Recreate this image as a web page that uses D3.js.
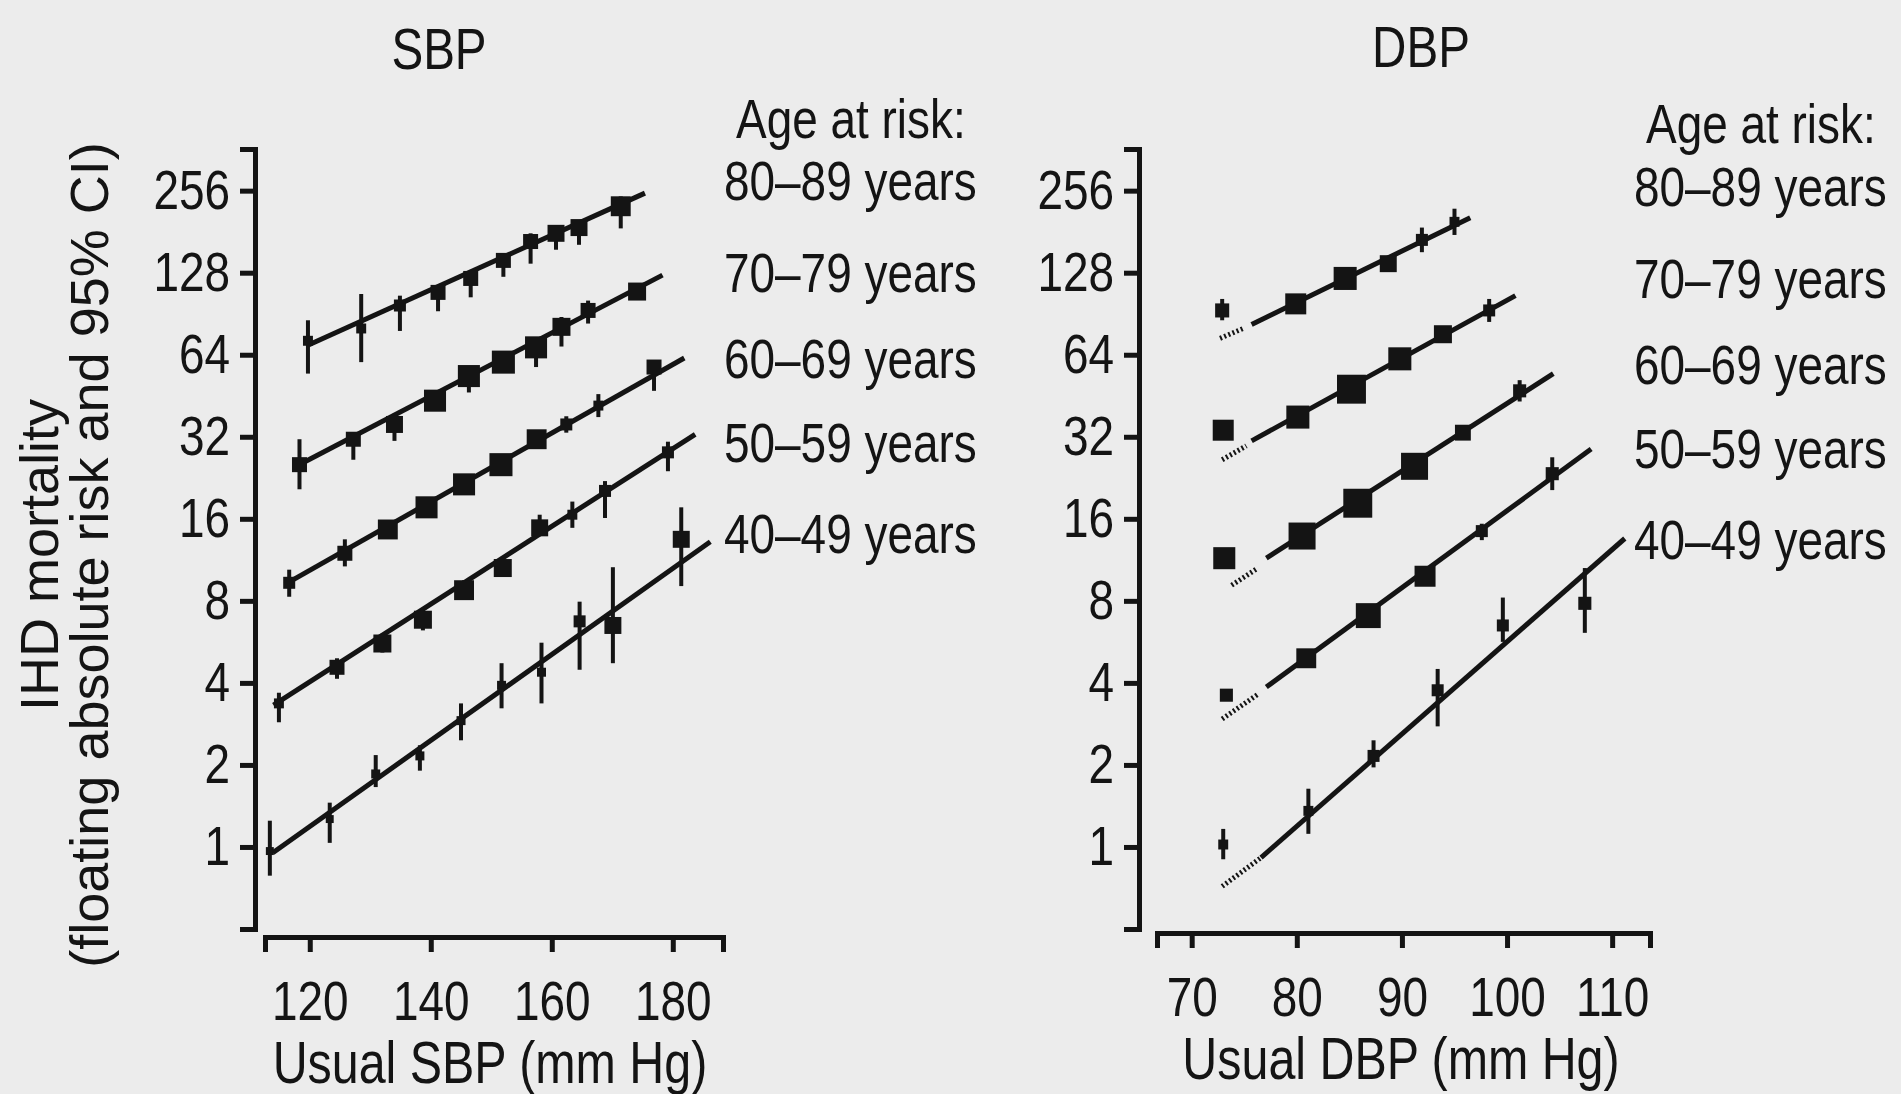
<!DOCTYPE html>
<html>
<head>
<meta charset="utf-8">
<script src="https://cdn.jsdelivr.net/npm/d3@7"></script>
<style>
  html, body { margin: 0; padding: 0; background: #ececec; }
  svg { display: block; }
</style>
</head>
<body>
<svg id="chart" width="1901" height="1094"></svg>
<script>
// age groups, top line to bottom line
const ageGroups = ["80–89 years", "70–79 years", "60–69 years", "50–59 years", "40–49 years"];
const yTicks = [1, 2, 4, 8, 16, 32, 64, 128, 256];
const sbpTicks = [120, 140, 160, 180];
const dbpTicks = [70, 80, 90, 100, 110];

// SBP panel: usual SBP (mm Hg) and log2 of floating absolute risk, one row per age group
const sbpX = [
  [119.7, 128.5, 134.9, 141.2, 146.6, 152.0, 156.5, 160.7, 164.5, 171.4],
  [118.3, 127.2, 134.0, 140.7, 146.3, 152.0, 157.4, 161.6, 166.0, 174.1],
  [116.6, 125.8, 132.9, 139.3, 145.5, 151.6, 157.5, 162.4, 167.7, 176.9],
  [114.9, 124.5, 132.0, 138.7, 145.5, 151.9, 158.0, 163.4, 168.8, 179.2],
  [113.4, 123.3, 130.9, 138.2, 145.0, 151.7, 158.3, 164.6, 170.1, 181.4]
];
const sbpRisk = [
  [6.17, 6.32, 6.60, 6.76, 6.93, 7.15, 7.38, 7.48, 7.55, 7.81],
  [4.66, 4.97, 5.15, 5.44, 5.74, 5.91, 6.09, 6.34, 6.54, 6.77],
  [3.22, 3.58, 3.87, 4.14, 4.42, 4.66, 4.97, 5.15, 5.38, 5.85],
  [1.75, 2.19, 2.48, 2.77, 3.13, 3.40, 3.89, 4.05, 4.34, 4.81],
  [-0.05, 0.34, 0.89, 1.11, 1.54, 1.97, 2.13, 2.75, 2.70, 3.75]
];
const sbpLo = [
  [5.77, 5.91, 6.29, 6.53, 6.70, 6.95, 7.11, 7.28, 7.34, 7.54],
  [4.36, 4.72, 4.95, 5.36, 5.54, 5.83, 5.85, 6.10, 6.38, 6.69],
  [3.05, 3.42, 3.80, 4.07, 4.35, 4.60, 4.90, 5.05, 5.24, 5.56],
  [1.52, 2.05, 2.37, 2.64, 3.02, 3.30, 3.80, 3.89, 4.01, 4.58],
  [-0.35, 0.05, 0.73, 0.93, 1.30, 1.69, 1.75, 2.16, 2.24, 3.18]
];
const sbpHi = [
  [6.42, 6.74, 6.72, 6.85, 7.01, 7.23, 7.48, 7.58, 7.64, 7.93],
  [4.97, 5.05, 5.25, 5.52, 5.85, 5.99, 6.19, 6.46, 6.66, 6.85],
  [3.38, 3.75, 3.94, 4.21, 4.49, 4.72, 5.04, 5.25, 5.52, 5.93],
  [1.88, 2.30, 2.60, 2.90, 3.25, 3.50, 4.05, 4.21, 4.46, 4.94],
  [0.32, 0.54, 1.12, 1.24, 1.75, 2.24, 2.49, 2.99, 3.41, 4.14]
];
// relative weight (inverse variance), drives box area
const sbpWeight = [
  [11, 11, 16, 25, 25, 25, 25, 32, 32, 44],
  [25, 25, 32, 54, 54, 59, 54, 36, 25, 36],
  [16, 25, 44, 54, 54, 59, 44, 16, 11, 25],
  [11, 25, 36, 36, 44, 36, 32, 11, 16, 16],
  [7, 7, 9, 9, 9, 9, 9, 16, 32, 32]
];
// fitted lines: [x0, log2 risk0, x1, log2 risk1]
const sbpFit = [
  [119.5, 6.11, 175.4, 7.97],
  [118.8, 4.68, 178.3, 6.97],
  [115.9, 3.20, 181.9, 5.96],
  [114.0, 1.73, 183.7, 5.03],
  [113.9, -0.07, 186.2, 3.72]
];

// DBP panel
const dbpX = [
  [79.9, 84.6, 88.7, 91.9, 95.0],
  [80.1, 85.2, 89.8, 93.9, 98.3],
  [80.5, 85.8, 91.2, 95.8, 101.2],
  [80.9, 86.8, 92.2, 97.6, 104.3],
  [81.1, 87.3, 93.4, 99.6, 107.4]
];
const dbpRisk = [
  [6.62, 6.93, 7.11, 7.40, 7.62],
  [5.24, 5.58, 5.95, 6.25, 6.54],
  [3.79, 4.19, 4.64, 5.05, 5.56],
  [2.30, 2.82, 3.30, 3.85, 4.55],
  [0.44, 1.11, 1.91, 2.70, 2.97]
];
const dbpLo = [
  [6.55, 6.86, 7.05, 7.25, 7.46],
  [5.17, 5.50, 5.88, 6.19, 6.40],
  [3.72, 4.12, 4.57, 5.00, 5.43],
  [2.24, 2.75, 3.24, 3.74, 4.35],
  [0.16, 0.97, 1.47, 2.50, 2.61]
];
const dbpHi = [
  [6.69, 7.00, 7.17, 7.55, 7.78],
  [5.31, 5.66, 6.02, 6.31, 6.68],
  [3.86, 4.26, 4.71, 5.10, 5.69],
  [2.36, 2.89, 3.36, 3.94, 4.75],
  [0.71, 1.30, 2.17, 3.04, 3.40]
];
const dbpWeight = [
  [49, 59, 32, 16, 11],
  [59, 93, 59, 36, 16],
  [81, 93, 81, 28, 19],
  [44, 69, 49, 16, 19],
  [11, 16, 16, 16, 19]
];
const dbpFit = [
  [75.7, 6.37, 96.5, 7.67],
  [75.7, 4.95, 100.8, 6.72],
  [77.1, 3.52, 104.4, 5.77],
  [77.1, 1.95, 108.0, 4.85],
  [76.6, -0.13, 111.2, 3.76]
];
// lowest DBP group, shown apart, with the line extrapolated (hatched) towards it
const dbpRefX = [72.9, 73.0, 73.1, 73.3, 73.0];
const dbpRefRisk = [6.54, 5.08, 3.52, 1.85, 0.03];
const dbpRefLo = [6.42, 5.08, 3.52, 1.85, -0.15];
const dbpRefHi = [6.68, 5.08, 3.52, 1.85, 0.22];
const dbpRefWeight = [22, 49, 54, 19, 11];
const dbpExtrap = [
  [72.7, 6.20, 74.9, 6.32],
  [72.9, 4.72, 75.2, 4.89],
  [73.8, 3.19, 76.3, 3.40],
  [72.9, 1.56, 76.4, 1.87],
  [72.9, -0.48, 76.6, -0.13]
];

const ink = "#141414";
const font = '"Liberation Sans", Arial, sans-serif';

const svg = d3.select("#chart");

svg.append("rect")
  .attr("width", 1901)
  .attr("height", 1094)
  .attr("fill", "#ececec");

const y = d3.scaleLog().base(2)
  .domain([0.5, 364])
  .range([929, 149]);

const size = d3.scaleSqrt().domain([0, 100]).range([0, 30]);

// the scan uses a narrow Helvetica; squeeze the regular face to match
function condense(sel) {
  sel.each(function() {
    var len = this.getComputedTextLength();
    d3.select(this)
      .attr("textLength", len * 0.82)
      .attr("lengthAdjust", "spacingAndGlyphs");
  });
}

function styleAxis(g) {
  g.select(".domain").attr("stroke", ink).attr("stroke-width", 5);
  g.selectAll(".tick line").attr("stroke", ink).attr("stroke-width", 5);
  g.selectAll(".tick text")
    .attr("fill", ink)
    .style("font-family", font)
    .style("font-size", "56px")
    .call(condense);
}

function makePoints(xs, risk, lo, hi, w) {
  var pts = [];
  xs.forEach(function(row, gi) {
    row.forEach(function(v, i) {
      pts.push({x: v, r: risk[gi][i], lo: lo[gi][i], hi: hi[gi][i], w: w[gi][i]});
    });
  });
  return pts;
}

function drawPanel(p) {
  var self = svg.append("g").attr("class", "panel");
  var x = p.x;

  // y axis
  self.append("g")
    .attr("transform", "translate(" + p.yAxisX + ",0)")
    .call(d3.axisLeft(y).tickValues(yTicks).tickFormat(d3.format("d"))
      .tickSize(15).tickSizeOuter(15).tickPadding(10))
    .call(styleAxis);

  // x axis
  self.append("g")
    .attr("transform", "translate(0," + p.xAxisY + ")")
    .call(d3.axisBottom(x).tickValues(p.ticks).tickFormat(d3.format("d"))
      .tickSize(15).tickSizeOuter(15).tickPadding(28))
    .call(styleAxis);

  // fitted lines
  self.selectAll(".fit")
    .data(p.fit)
    .enter()
    .append("line")
    .attr("class", "fit")
    .attr("x1", function(d) { return x(d[0]); })
    .attr("y1", function(d) { return y(Math.pow(2, d[1])); })
    .attr("x2", function(d) { return x(d[2]); })
    .attr("y2", function(d) { return y(Math.pow(2, d[3])); })
    .attr("stroke", ink)
    .attr("stroke-width", 5);

  if (p.extrap) {
    self.selectAll(".extrap")
      .data(p.extrap)
      .enter()
      .append("line")
      .attr("class", "extrap")
      .attr("x1", function(d) { return x(d[0]); })
      .attr("y1", function(d) { return y(Math.pow(2, d[1])); })
      .attr("x2", function(d) { return x(d[2]); })
      .attr("y2", function(d) { return y(Math.pow(2, d[3])); })
      .attr("stroke", ink)
      .attr("stroke-width", 5)
      .attr("stroke-dasharray", "2 2.5");
  }

  var pts = p.points;

  // 95% CI
  self.selectAll(".ci")
    .data(pts)
    .enter()
    .append("line")
    .attr("class", "ci")
    .attr("x1", function(d) { return x(d.x); })
    .attr("x2", function(d) { return x(d.x); })
    .attr("y1", function(d) { return y(Math.pow(2, d.lo)); })
    .attr("y2", function(d) { return y(Math.pow(2, d.hi)); })
    .attr("stroke", ink)
    .attr("stroke-width", 4);

  // boxes, area ~ weight
  self.selectAll(".box")
    .data(pts)
    .enter()
    .append("rect")
    .attr("class", "box")
    .attr("x", function(d) { return x(d.x) - size(d.w) / 2; })
    .attr("y", function(d) { return y(Math.pow(2, d.r)) - size(d.w) / 2; })
    .attr("width", function(d) { return size(d.w); })
    .attr("height", function(d) { return size(d.w); })
    .attr("fill", ink);

  var labels = self.append("g")
    .style("font-family", font)
    .attr("fill", ink);

  // title
  labels.append("text")
    .attr("x", p.titleX)
    .attr("y", p.titleY)
    .attr("text-anchor", "middle")
    .style("font-size", "58px")
    .text(p.title);

  // x axis title
  labels.append("text")
    .attr("x", p.xTitleX)
    .attr("y", p.xTitleY)
    .attr("text-anchor", "middle")
    .style("font-size", "59px")
    .text(p.xTitle);

  // legend
  labels.append("text")
    .attr("x", p.legendX + 12)
    .attr("y", p.legendY[0])
    .style("font-size", "56px")
    .text("Age at risk:");

  labels.selectAll(".age")
    .data(ageGroups)
    .enter()
    .append("text")
    .attr("class", "age")
    .attr("x", p.legendX)
    .attr("y", function(d, i) { return p.legendY[i + 1]; })
    .style("font-size", "56px")
    .text(function(d) { return d; });

  labels.selectAll("text").call(condense);
}

var sbpScale = d3.scaleLinear().domain([112.6, 188.3]).range([265, 723]);
var dbpScale = d3.scaleLinear().domain([66.7, 113.6]).range([1157, 1650]);

drawPanel({
  x: sbpScale,
  ticks: sbpTicks,
  yAxisX: 255,
  xAxisY: 937,
  fit: sbpFit,
  points: makePoints(sbpX, sbpRisk, sbpLo, sbpHi, sbpWeight),
  title: "SBP",
  titleX: 439,
  titleY: 69,
  xTitle: "Usual SBP (mm Hg)",
  xTitleX: 490,
  xTitleY: 1083,
  legendX: 724,
  legendY: [138, 200, 292, 378, 462, 553]
});

var dbpPoints = makePoints(dbpX, dbpRisk, dbpLo, dbpHi, dbpWeight)
  .concat(makePoints([dbpRefX], [dbpRefRisk], [dbpRefLo], [dbpRefHi], [dbpRefWeight]));

drawPanel({
  x: dbpScale,
  ticks: dbpTicks,
  yAxisX: 1139,
  xAxisY: 933,
  fit: dbpFit,
  extrap: dbpExtrap,
  points: dbpPoints,
  title: "DBP",
  titleX: 1421,
  titleY: 67,
  xTitle: "Usual DBP (mm Hg)",
  xTitleX: 1401,
  xTitleY: 1079,
  legendX: 1634,
  legendY: [143, 206, 298, 384, 468, 559]
});

// shared y axis title, regular width in the scan
var yTitle = svg.append("g")
  .style("font-family", font)
  .style("font-size", "54px")
  .attr("fill", ink)
  .attr("text-anchor", "middle");

yTitle.append("text")
  .attr("transform", "translate(58,555) rotate(-90)")
  .text("IHD mortality");

yTitle.append("text")
  .attr("transform", "translate(108,555) rotate(-90)")
  .text("(floating absolute risk and 95% CI)");
</script>
</body>
</html>
